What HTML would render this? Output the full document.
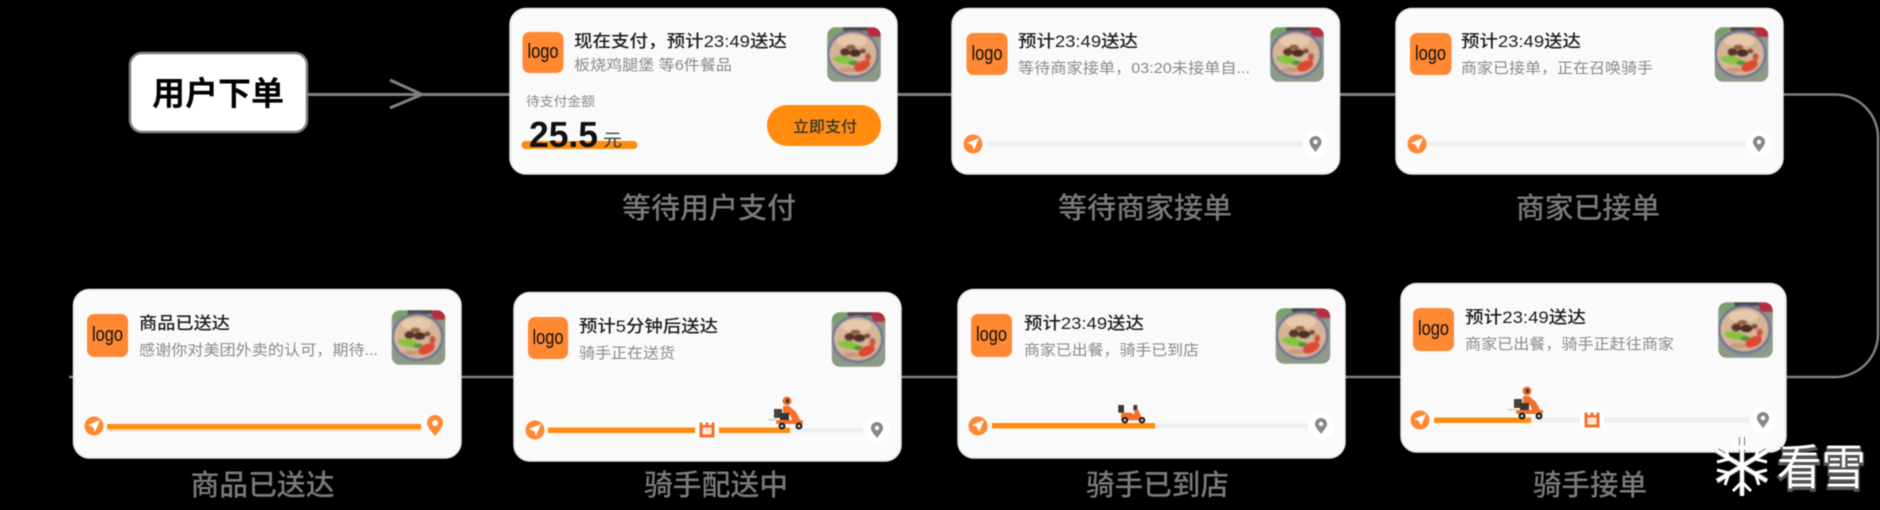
<!DOCTYPE html>
<html lang="zh"><head><meta charset="utf-8"><title>外卖订单状态流程</title>
<style>
html,body{margin:0;padding:0;background:#000;width:1880px;height:510px;overflow:hidden}
svg{display:block;filter:blur(.55px)}
text{font-family:"Liberation Sans","Noto Sans CJK SC",sans-serif}
.t{font-size:17px;fill:#1c1c1c;font-weight:500}
.s{font-size:15px;fill:#8a8a8a}
.l{font-size:29px;fill:#7a7a7a;font-weight:500}
.g{font-size:20px;fill:#111;font-family:"Liberation Sans",sans-serif}
.c{fill:#fafafa;stroke:#e4e4e4;stroke-width:1.500}
</style></head><body>
<svg width="1880" height="510" viewBox="0 0 1880 510" xmlns="http://www.w3.org/2000/svg">
<defs>
<filter id="b" x="-10%" y="-10%" width="120%" height="120%"><feGaussianBlur stdDeviation=".9"/></filter>
<clipPath id="fc"><rect width="54" height="55" rx="9"/></clipPath>
<symbol id="food" viewBox="0 0 54 55" overflow="visible">
<g clip-path="url(#fc)"><g filter="url(#b)">
<rect width="54" height="55" fill="#8c9a86"/>
<rect x="0" y="0" width="22" height="9" fill="#79a06c"/>
<rect x="16" y="0" width="24" height="4" fill="#4a443e"/>
<rect x="40" y="0" width="14" height="10" fill="#b22f40"/>
<ellipse cx="26" cy="27" rx="26" ry="24" fill="#6a7299"/>
<ellipse cx="26" cy="27" rx="23.500" ry="21.500" fill="#d7b497"/>
<ellipse cx="25" cy="14" rx="15" ry="6" fill="#e6c9ab"/>
<ellipse cx="18" cy="25" rx="5" ry="4" fill="#5a3628"/>
<ellipse cx="28" cy="26" rx="6" ry="4" fill="#4d2e22"/>
<ellipse cx="24" cy="20" rx="5" ry="2.500" fill="#94603f"/>
<ellipse cx="36" cy="24" rx="3" ry="2.500" fill="#7b4a32"/>
<ellipse cx="17" cy="33" rx="11" ry="4" fill="#86c43f" transform="rotate(10 17 33)"/>
<ellipse cx="27" cy="36" rx="5" ry="2.500" fill="#4f9440"/>
<ellipse cx="35" cy="39" rx="9" ry="5" fill="#dc4a30" transform="rotate(-25 35 39)"/>
<ellipse cx="41" cy="30" rx="3" ry="4" fill="#c8543a"/>
<ellipse cx="20" cy="43" rx="8" ry="2.500" fill="#c89a7a"/>
</g></g>
</symbol>
<symbol id="en" viewBox="-15 -15 30 30" overflow="visible">
<circle r="13" fill="#fff"/>
<path d="M0 8C-3 4 -6 1 -6 -2A6 6 0 0 1 6 -2C6 1 3 4 0 8Z" fill="#888"/><circle cy="-2" r="2.200" fill="#fff"/>
</symbol>
<symbol id="shop" viewBox="-13 -13 26 26" overflow="visible">
<circle r="12" fill="#fff"/>
<path d="M-7.500 -7.500h3v2.500h3v-2.500h3v2.500h3v-2.500h3V7.500H-7.500Z" fill="#f4702a"/>
<rect x="-4.500" y="-2.500" width="9" height="7" fill="#ffe6d4"/>
</symbol>
<symbol id="rider" viewBox="0 0 36 35" overflow="visible">
<rect x="0" y="24" width="8" height="1.500" fill="#ccc"/>
<circle cx="19" cy="6" r="4.500" fill="#f4702a"/>
<rect x="18" y="4" width="3" height="4" fill="#333"/>
<path d="M15 11h6l7 6 4 8h-8l-2-5h-7Z" fill="#f4702a"/>
<rect x="6" y="14" width="8" height="9" fill="#4a4038"/>
<rect x="12" y="18" width="9" height="7" fill="#3a3430"/>
<rect x="8" y="25" width="27" height="4" rx="1.500" fill="#f4702a"/>
<circle cx="14" cy="31" r="3.500" fill="#222"/><circle cx="14" cy="31" r="1.300" fill="#ddd"/>
<circle cx="31" cy="31" r="3.500" fill="#222"/><circle cx="31" cy="31" r="1.300" fill="#ddd"/>
</symbol>
<symbol id="scooter" viewBox="0 0 30 20" overflow="visible">
<rect x="0" y="0" width="6" height="8" fill="#3d342e"/>
<rect x="16" y="0" width="4" height="6" fill="#3d342e"/>
<path d="M3 8h10l4 2V5h4l5 11H3Z" fill="#f4702a"/>
<circle cx="7" cy="16" r="3.500" fill="#222"/><circle cx="7" cy="16" r="1.300" fill="#ddd"/>
<circle cx="25" cy="16" r="3.500" fill="#222"/><circle cx="25" cy="16" r="1.300" fill="#ddd"/>
</symbol>
</defs>

<rect width="1880" height="510" fill="#000"/>

<!-- connectors -->
<g fill="none" stroke="#808080">
<path d="M308 94.500H510M897 94.500H952M1339 94.500H1396" stroke-width="3"/>
<path d="M390 80L422 94.500L390 108" stroke-width="3"/>
<path d="M1783 94.500H1835A43 43 0 0 1 1878 137.500V334A43 43 0 0 1 1835 377H1786" stroke-width="2.500"/>
<path d="M1345 377H1401M900 377H958M461 377H514M69 377H74" stroke-width="2.500"/>
</g>

<!-- start box -->
<rect x="130" y="53" width="177" height="79" rx="12" fill="#fff" stroke="#808080" stroke-width="2.500"/>
<text x="152" y="105" font-size="33" font-weight="700" fill="#000" textLength="132" lengthAdjust="spacingAndGlyphs">用户下单</text>

<!-- card 1 -->
<rect class="c" x="510" y="8.500" width="387" height="165.500" rx="16"/>
<rect x="522.500" y="32" width="41" height="41" rx="7" fill="#ff8833"/>
<text class="g" x="527.500" y="58" textLength="31" lengthAdjust="spacingAndGlyphs">logo</text>
<text class="t" x="574" y="47" textLength="213" lengthAdjust="spacingAndGlyphs">现在支付，预计23:49送达</text>
<text class="s" x="574" y="70" textLength="158" lengthAdjust="spacingAndGlyphs">板烧鸡腿堡 等6件餐品</text>
<use href="#food" x="827" y="27" width="54" height="55"/>
<text x="526" y="106" font-size="13" fill="#888" textLength="69" lengthAdjust="spacingAndGlyphs">待支付金额</text>
<rect x="521.500" y="141" width="116" height="8" rx="4" fill="#ff8c0f"/>
<text x="529" y="147" font-size="36" font-weight="700" fill="#111" textLength="69" lengthAdjust="spacingAndGlyphs">25.5</text>
<text x="603" y="146" font-size="17" fill="#333" textLength="19" lengthAdjust="spacingAndGlyphs">元</text>
<rect x="767" y="105" width="114" height="41" rx="20" fill="#ff8c0f"/>
<text x="793" y="132" font-size="15.500" font-weight="500" fill="#333" textLength="64" lengthAdjust="spacingAndGlyphs">立即支付</text>
<text class="l" x="622" y="218" textLength="174" lengthAdjust="spacingAndGlyphs">等待用户支付</text>

<!-- card 2 -->
<rect class="c" x="952" y="8.500" width="387.500" height="165.500" rx="16"/>
<rect x="966.500" y="33" width="41" height="42" rx="7" fill="#ff8833"/>
<text class="g" x="971.500" y="60" textLength="31" lengthAdjust="spacingAndGlyphs">logo</text>
<text class="t" x="1018" y="47" textLength="120" lengthAdjust="spacingAndGlyphs">预计23:49送达</text>
<text class="s" x="1018" y="73" textLength="232" lengthAdjust="spacingAndGlyphs">等待商家接单，03:20未接单自...</text>
<use href="#food" x="1270" y="27" width="54" height="55"/>
<rect x="987" y="141.500" width="316" height="5" fill="#efefef"/>
<circle cx="973" cy="144" r="9.500" fill="#ff8833"/><path d="M979 138L967 143L972 145L974 150Z" fill="#fff"/>
<use href="#en" x="1300.500" y="129" width="30" height="30"/>
<text class="l" x="1058" y="218" textLength="174" lengthAdjust="spacingAndGlyphs">等待商家接单</text>

<!-- card 3 -->
<rect class="c" x="1396" y="8.500" width="387" height="165.500" rx="16"/>
<rect x="1410" y="33" width="41.500" height="42" rx="7" fill="#ff8833"/>
<text class="g" x="1415" y="60" textLength="31" lengthAdjust="spacingAndGlyphs">logo</text>
<text class="t" x="1461" y="47" textLength="120" lengthAdjust="spacingAndGlyphs">预计23:49送达</text>
<text class="s" x="1461" y="73" textLength="192" lengthAdjust="spacingAndGlyphs">商家已接单，正在召唤骑手</text>
<use href="#food" x="1714" y="27" width="55" height="55"/>
<rect x="1430" y="141.500" width="317" height="5" fill="#efefef"/>
<circle cx="1417" cy="144" r="9.500" fill="#ff8833"/><path d="M1423 138L1411 143L1416 145L1418 150Z" fill="#fff"/>
<use href="#en" x="1744" y="129" width="30" height="30"/>
<text class="l" x="1516" y="218" textLength="144" lengthAdjust="spacingAndGlyphs">商家已接单</text>

<!-- card D 骑手接单 -->
<rect class="c" x="1401" y="283.500" width="385" height="168.500" rx="16"/>
<rect x="1413" y="308" width="41" height="43" rx="7" fill="#ff8833"/>
<text class="g" x="1418" y="335" textLength="31" lengthAdjust="spacingAndGlyphs">logo</text>
<text class="t" x="1465" y="323" textLength="121" lengthAdjust="spacingAndGlyphs">预计23:49送达</text>
<text class="s" x="1465" y="349" textLength="209" lengthAdjust="spacingAndGlyphs">商家已出餐，骑手正赶往商家</text>
<use href="#food" x="1718" y="302" width="55" height="56"/>
<rect x="1434" y="417.500" width="317" height="5" fill="#efefef"/>
<rect x="1434" y="417.500" width="97" height="5.500" fill="#ff8c0f"/>
<circle cx="1420" cy="420" r="9.500" fill="#ff8833"/><path d="M1426 414L1414 419L1419 421L1421 426Z" fill="#fff"/>
<use href="#shop" x="1579" y="407" width="26" height="26"/>
<use href="#en" x="1748" y="405" width="30" height="30"/>
<use href="#rider" x="1508" y="385" width="36" height="35"/>
<text class="l" x="1533" y="495" textLength="114" lengthAdjust="spacingAndGlyphs">骑手接单</text>

<!-- card C 骑手已到店 -->
<rect class="c" x="958" y="289.500" width="387" height="168.500" rx="16"/>
<rect x="971" y="314" width="41" height="43" rx="7" fill="#ff8833"/>
<text class="g" x="976" y="341" textLength="31" lengthAdjust="spacingAndGlyphs">logo</text>
<text class="t" x="1024" y="329" textLength="120" lengthAdjust="spacingAndGlyphs">预计23:49送达</text>
<text class="s" x="1024" y="355" textLength="175" lengthAdjust="spacingAndGlyphs">商家已出餐，骑手已到店</text>
<use href="#food" x="1275" y="308" width="56" height="56"/>
<rect x="992" y="423.500" width="316" height="5" fill="#efefef"/>
<rect x="992" y="423" width="163" height="5.500" fill="#ff8c0f"/>
<circle cx="978" cy="426" r="9.500" fill="#ff8833"/><path d="M984 420L972 425L977 427L979 432Z" fill="#fff"/>
<use href="#en" x="1306" y="411" width="30" height="30"/>
<use href="#scooter" x="1118" y="405" width="29" height="19"/>
<text class="l" x="1086" y="495" textLength="143" lengthAdjust="spacingAndGlyphs">骑手已到店</text>

<!-- card B 骑手配送中 -->
<rect class="c" x="514" y="292.500" width="387" height="168.500" rx="16"/>
<rect x="528" y="317" width="40" height="42" rx="7" fill="#ff8833"/>
<text class="g" x="532.500" y="344" textLength="31" lengthAdjust="spacingAndGlyphs">logo</text>
<text class="t" x="579" y="332" textLength="139" lengthAdjust="spacingAndGlyphs">预计5分钟后送达</text>
<text class="s" x="579" y="358" textLength="96" lengthAdjust="spacingAndGlyphs">骑手正在送货</text>
<use href="#food" x="831" y="312" width="55" height="55"/>
<rect x="548" y="427.500" width="315" height="5" fill="#efefef"/>
<rect x="548" y="427.500" width="242" height="5.500" fill="#ff8c0f"/>
<circle cx="535" cy="430" r="9.500" fill="#ff8833"/><path d="M541 424L529 429L534 431L536 436Z" fill="#fff"/>
<use href="#shop" x="694" y="417" width="26" height="26"/>
<use href="#en" x="862" y="415" width="30" height="30"/>
<use href="#rider" x="768" y="395" width="36" height="35"/>
<text class="l" x="644" y="495" textLength="144" lengthAdjust="spacingAndGlyphs">骑手配送中</text>

<!-- card A 商品已送达 -->
<rect class="c" x="73.500" y="289.500" width="387.500" height="168.500" rx="16"/>
<rect x="87" y="314" width="41" height="43" rx="7" fill="#ff8833"/>
<text class="g" x="92" y="341" textLength="31" lengthAdjust="spacingAndGlyphs">logo</text>
<text class="t" x="139" y="329" textLength="91" lengthAdjust="spacingAndGlyphs">商品已送达</text>
<text class="s" x="139" y="355" textLength="239" lengthAdjust="spacingAndGlyphs">感谢你对美团外卖的认可，期待...</text>
<use href="#food" x="391" y="310" width="55" height="55"/>
<rect x="107" y="424" width="314" height="5" fill="#ff8c0f"/>
<rect x="107" y="429" width="314" height="2" fill="#ffcf9f"/>
<circle cx="94" cy="426" r="9.500" fill="#ff8833"/><path d="M100 420L88 425L93 427L95 432Z" fill="#fff"/>
<path d="M435 436C431 431 427 427 427 423A8 8 0 0 1 443 423C443 427 439 431 435 436Z" fill="#ff8833"/><circle cx="435" cy="423" r="3" fill="#fff"/>
<text class="l" x="190.500" y="495" textLength="144" lengthAdjust="spacingAndGlyphs">商品已送达</text>

<!-- watermark -->
<g fill="none" stroke="#555" stroke-width="6" opacity=".8">
<path d="M1742 437V495M1717 451L1767 481M1767 451L1717 481"/>
</g>
<g stroke="#fff" stroke-width="4" fill="none">
<path d="M1742 436V496M1717 451L1767 481M1767 451L1717 481"/>
<path d="M1733 441L1742 450L1751 441M1733 491L1742 482L1751 491M1717 462L1729 459L1725 447M1767 462L1755 459L1759 447M1717 470L1729 473L1725 485M1767 470L1755 473L1759 485" stroke-width="3"/>
</g>
<text x="1777" y="486" font-size="48" fill="#555" stroke="#555" stroke-width="3" textLength="89" lengthAdjust="spacingAndGlyphs">看雪</text>
<text x="1777" y="484" font-size="48" fill="#fff" textLength="89" lengthAdjust="spacingAndGlyphs">看雪</text>
</svg>
</body></html>
